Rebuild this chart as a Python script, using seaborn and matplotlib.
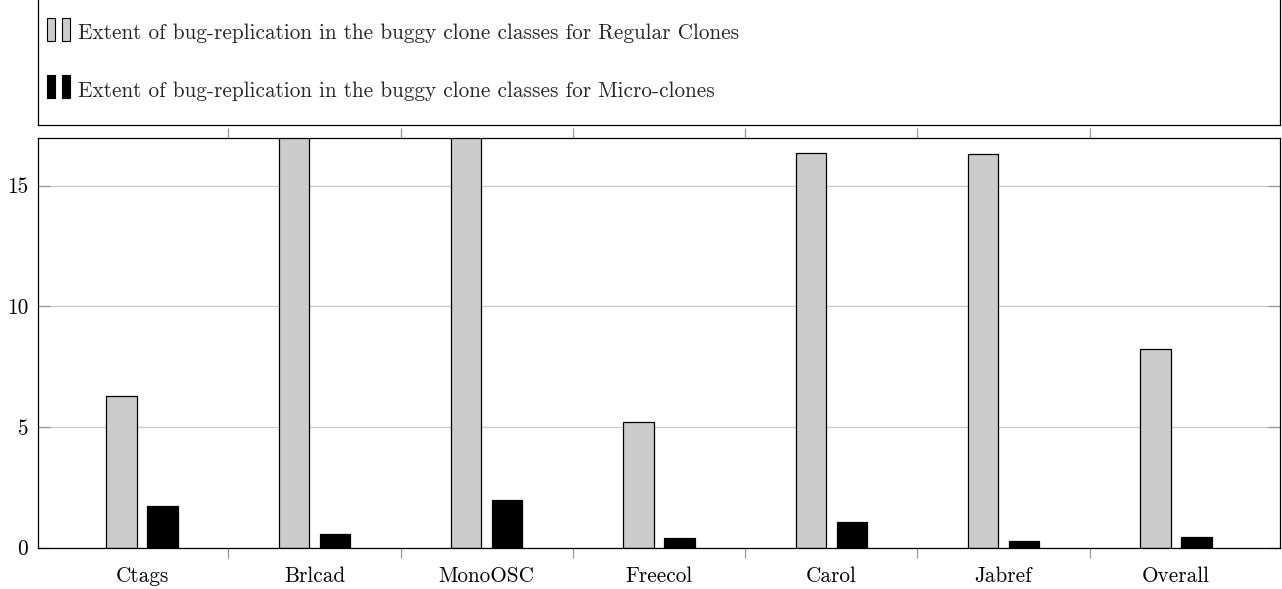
import numpy as np
import pandas as pd
import matplotlib
matplotlib.use("Agg")
import matplotlib.pyplot as plt
import seaborn as sns
from matplotlib.legend_handler import HandlerBase
from matplotlib.patches import Patch, Rectangle

# Data
projects = ["Ctags", "Brlcad", "MonoOSC", "Freecol", "Carol", "Jabref", "Overall"]
regular_clones = [6.29, 24.6, 19.3, 5.21, 16.35, 16.32, 8.21]
micro_clones = [1.73, 0.58, 1.95, 0.40, 1.04, 0.25, 0.44]
series_names = [
    "Extent of bug-replication in the buggy clone classes for Regular Clones",
    "Extent of bug-replication in the buggy clone classes for Micro-clones",
]
y_ticks = [0, 5, 10, 15]

df = pd.DataFrame({
    "project": projects * 2,
    "value": regular_clones + micro_clones,
    "series": [series_names[0]] * len(projects) + [series_names[1]] * len(projects),
})

sns.set_theme(style="white")
plt.rcParams["font.family"] = ["cmr10", "DejaVu Serif"]
plt.rcParams["axes.unicode_minus"] = False
plt.rcParams["mathtext.fontset"] = "cm"

FS = 15.3
W, H = 1282, 589
fig = plt.figure(figsize=(W / 100, H / 100), dpi=100)

# main plotting area
ax = fig.add_axes([38 / W, (H - 547.5) / H, 1242 / W, 410 / H])
sns.barplot(
    data=df, x="project", y="value", hue="series",
    palette=["#cccccc", "#000000"], saturation=1,
    width=0.476, gap=0.256, errorbar=None,
    edgecolor="black", linewidth=0.9, legend=False, ax=ax,
)
ax.set_xlim(-0.605, 6.605)
ax.set_ylim(0, 17)
ax.set_xlabel("")
ax.set_ylabel("")
ax.set_yticks(y_ticks)
ax.set_yticklabels([str(t) for t in y_ticks], fontsize=FS)
ax.yaxis.grid(True, color="#c8c8c8", linewidth=0.9)
ax.xaxis.grid(False)
ax.set_axisbelow(True)

# category labels centred, tick marks on the boundaries between groups
ax.set_xticks(np.arange(len(projects)))
ax.set_xticklabels(projects, fontsize=FS)
ax.set_xticks(np.arange(0.5, len(projects) - 1, 1.0), minor=True)
ax.tick_params(axis="x", which="major", length=0, pad=14, colors="black")
ax.tick_params(axis="x", which="minor", direction="out", length=7.2,
               width=0.9, color="#999999", top=True, bottom=True)
ax.tick_params(axis="y", which="major", direction="in", length=8.4,
               width=0.9, color="#999999", labelcolor="black",
               left=True, right=True, pad=7)
for s in ax.spines.values():
    s.set_visible(True)
    s.set_color("black")
    s.set_linewidth(0.9)


class PairedBars(HandlerBase):
    """Legend key drawn as two small upright bars."""

    def create_artists(self, legend, orig_handle, xdescent, ydescent,
                       width, height, fontsize, trans):
        bw = width * 8 / 23
        bh = fontsize * 1.06
        out = []
        for x0 in (0.0, width * 15 / 23):
            r = Rectangle((x0 - xdescent, -1.0), bw, bh,
                          facecolor=orig_handle.get_facecolor(),
                          edgecolor="black", linewidth=0.8, transform=trans)
            out.append(r)
        return out


# legend box above the plot
lax = fig.add_axes([38 / W, (H - 125) / H, 1242 / W, 127 / H])
lax.set_xticks([])
lax.set_yticks([])
lax.set_facecolor("none")
for s in lax.spines.values():
    s.set_color("black")
    s.set_linewidth(0.9)
handles = [Patch(facecolor="#cccccc", edgecolor="black"),
           Patch(facecolor="#000000", edgecolor="black")]
lax.legend(handles, series_names, handler_map={Patch: PairedBars()},
           loc="center left", bbox_to_anchor=(9 / 1242, 0.5),
           frameon=False, fontsize=FS, borderpad=0, borderaxespad=0,
           handlelength=1.09, handleheight=1.0, handletextpad=0.38,
           labelspacing=1.72)

fig.savefig("out.png", dpi=100)
